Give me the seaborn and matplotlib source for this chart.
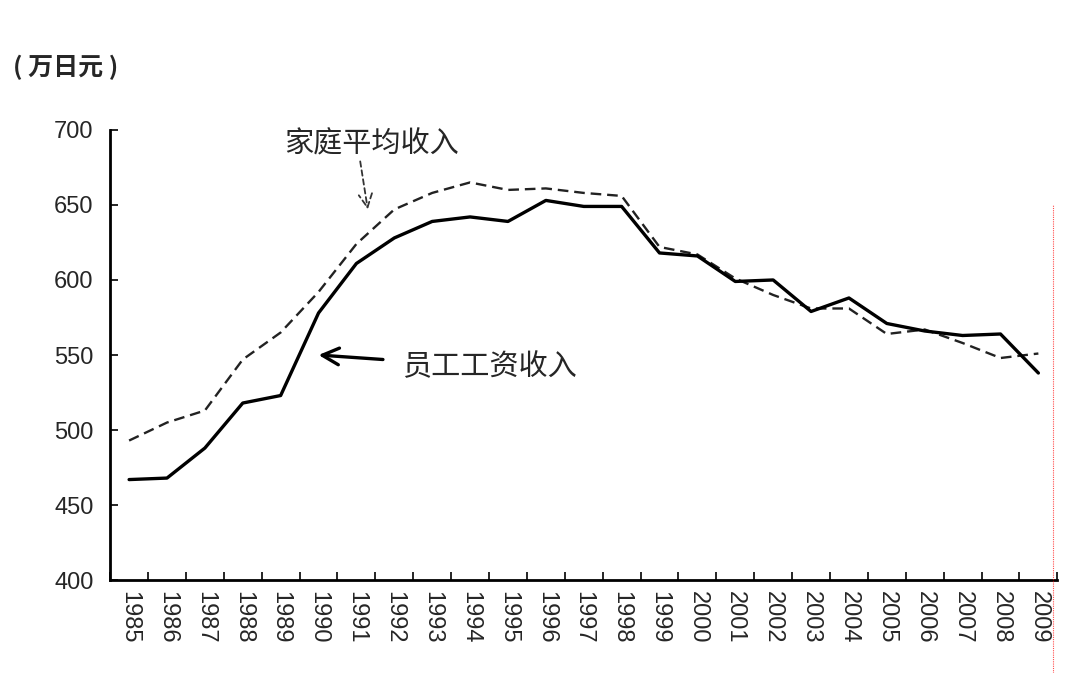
import numpy as np
import pandas as pd
import seaborn as sns
import matplotlib.pyplot as plt
from matplotlib.lines import Line2D

years = list(range(1985, 2010))
wage_income = [467, 468, 488, 518, 523, 578, 611, 628, 639, 642, 639, 653, 649,
               649, 618, 616, 599, 600, 579, 588, 571, 566, 563, 564, 538]
household_income = [493, 505, 513, 547, 565, 592, 624, 647, 658, 665, 660, 661, 658,
                    656, 622, 617, 601, 590, 581, 581, 564, 567, 558, 548, 551]

sns.set_theme(style="white")
plt.rcParams["font.family"] = ["Liberation Sans", "Noto Sans CJK SC", "DejaVu Sans"]
cjk = ["Noto Sans CJK SC", "DejaVu Sans"]

df = pd.DataFrame({"year": years, "wage": wage_income, "household": household_income})

fig = plt.figure(figsize=(10.8, 6.73), dpi=100)
ax = fig.add_axes([0.102, 0.138, 0.877, 0.669])

sns.lineplot(data=df, x="year", y="household", ax=ax, color="#222222",
             linewidth=1.7, linestyle=(0, (4.5, 2.5)))
sns.lineplot(data=df, x="year", y="wage", ax=ax, color="black", linewidth=2.4)

ax.set_xlim(years[0] - 0.5, years[-1] + 0.5)
ax.set_ylim(400, 700)
ax.set_yticks(np.arange(400, 701, 50))
ax.set_xticks(years)
ax.set_xticklabels([str(y) for y in years], rotation=-90, fontsize=17)
ax.set_xticks(np.arange(years[0] - 0.5, years[-1] + 0.6, 1), minor=True)
ax.tick_params(axis="x", which="major", length=0, pad=8)
ax.tick_params(axis="x", which="minor", direction="in", length=6, width=1.2,
               color="black", bottom=True)
ax.tick_params(axis="y", direction="in", length=6, width=1.2, color="black",
               left=True, labelsize=17, pad=12)
ax.set_xlabel("")
ax.set_ylabel("")

for side in ["top", "right"]:
    ax.spines[side].set_visible(False)
for side in ["left", "bottom"]:
    ax.spines[side].set_color("black")
    ax.spines[side].set_linewidth(2)

# annotations
ax.text(1991.4, 690, "家庭平均收入", fontsize=21, family=cjk, ha="center", va="center")
ax.annotate("", xy=(1991.3, 647), xytext=(1991.1, 679),
            arrowprops=dict(arrowstyle="->", linestyle=(0, (3, 2)), color="#333333",
                            lw=1.3, mutation_scale=24, shrinkA=0, shrinkB=0))
ax.annotate("", xy=(1990.0, 550), xytext=(1991.7, 547),
            arrowprops=dict(arrowstyle="->", color="black", lw=2.4,
                            mutation_scale=30, shrinkA=0, shrinkB=0))
ax.text(1992.2, 542, "员工工资收入", fontsize=21, family=cjk, ha="left", va="center")

fig.text(0.012, 0.9, "( 万日元 )", fontsize=18, family=cjk, ha="left", va="center",
         fontweight="bold")

# faint red dotted edge visible in the original
fig.add_artist(Line2D([0.975, 0.975], [0.0, 0.695], transform=fig.transFigure,
                      color="red", linewidth=0.8, linestyle=(0, (1, 1)), alpha=0.7))

fig.savefig("out.png", dpi=100)
